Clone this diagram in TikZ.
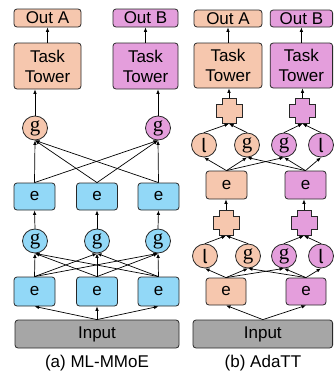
\documentclass[tikz,border=0pt]{standalone}
\usepackage{fontspec}
\setmainfont{Liberation Sans}
\newfontfamily\serifg{Liberation Serif}
\newfontfamily\firal{Fira Sans}
\usetikzlibrary{shapes.geometric,arrows.meta}
\definecolor{peach}{RGB}{246,199,174}
\definecolor{pinkv}{RGB}{228,158,220}
\definecolor{skyb}{RGB}{146,216,247}
\definecolor{grayin}{RGB}{166,166,166}
\definecolor{linec}{RGB}{40,40,40}
\newcommand{\gtxt}{{\serifg\fontsize{21}{21}\selectfont g}}
\newcommand{\ltxt}{{\firal\fontsize{19}{19}\selectfont l}}
\newcommand{\crossnode}[3]{%
  \node[inner sep=0pt, minimum width=26pt, minimum height=25pt] (#1) at (#2) {};
  \draw[draw=linec, line width=0.8pt, fill=#3]
    ([shift={(-7,-12.5)}]#1.center) -- ++(14,0) -- ++(0,6) -- ++(6,0) -- ++(0,13)
    -- ++(-6,0) -- ++(0,6) -- ++(-14,0) -- ++(0,-6) -- ++(-6,0) -- ++(0,-13)
    -- ++(6,0) -- cycle;
}
\begin{document}
\begin{tikzpicture}[x=1pt,y=-1pt,
  txt/.style={font=\fontsize{17}{20}\selectfont},
  box/.style={draw=linec, line width=0.8pt, rounded corners=3pt, inner sep=0pt,
    txt, align=center},
  ell/.style={ellipse, draw=linec, line width=0.8pt, minimum width=25pt,
    minimum height=24pt, inner sep=0pt, txt},
  arr/.style={-{Latex[length=4.5pt,width=3.6pt]}, line width=0.7pt, draw=black}]
\useasboundingbox (0,0) rectangle (333,375);

% ---------------- (a) ML-MMoE ----------------
\node[box, fill=peach, minimum width=67pt, minimum height=18pt] (oa1) at (47.5,18) {Out A};
\node[box, fill=pinkv, minimum width=65pt, minimum height=18pt] (ob1) at (145.5,18) {Out B};
\node[box, fill=peach, minimum width=67pt, minimum height=46pt] (ta1) at (47.5,66) {Task\\Tower};
\node[box, fill=pinkv, minimum width=65pt, minimum height=46pt] (tb1) at (145.5,66) {Task\\Tower};
\node[ell, fill=peach] (ga1) at (35,128) {\gtxt};
\node[ell, fill=pinkv] (gb1) at (158,128) {\gtxt};
\foreach \i/\x in {1/34.5,2/97,3/158.5}{
  \node[box, fill=skyb, minimum width=41pt, minimum height=27pt] (et\i) at (\x,196.5) {e};
  \node[box, fill=skyb, minimum width=41pt, minimum height=29pt] (eb\i) at (\x,291.5) {e};
}
\foreach \i/\x in {1/35,2/97,3/158}{
  \node[ell, fill=skyb] (gm\i) at (\x,241) {\gtxt};
}
\node[box, fill=grayin, minimum width=164pt, minimum height=28pt] (in1) at (97,334) {Input};
\node[txt] (cap1) at (97,363) {(a) ML-MMoE};

\foreach \i in {1,2,3}{
  \draw[arr] (in1.north) -- (eb\i.south);
  \draw[arr] (gm\i.north) -- (et\i.south);
  \foreach \j in {1,2,3}{
    \draw[arr] (eb\i.north) -- (gm\j.south);
  }
  \draw[arr] (et\i.north) -- (ga1.south);
  \draw[arr] (et\i.north) -- (gb1.south);
}
\draw[arr] (ga1.north) -- (ga1.north |- ta1.south);
\draw[arr] (gb1.north) -- (gb1.north |- tb1.south);
\draw[arr] (ta1.north) -- (oa1.south);
\draw[arr] (tb1.north) -- (ob1.south);

% ---------------- (b) AdaTT ----------------
\node[box, fill=peach, minimum width=68pt, minimum height=17pt] (oa2) at (228,18.5) {Out A};
\node[box, fill=pinkv, minimum width=62.4pt, minimum height=17pt] (ob2) at (301.4,18.5) {Out B};
\node[box, fill=peach, minimum width=68pt, minimum height=45pt] (ta2) at (228,65.5) {Task\\Tower};
\node[box, fill=pinkv, minimum width=62.4pt, minimum height=45pt] (tb2) at (301.4,65.5) {Task\\Tower};
\crossnode{pau}{229,111}{peach}
\crossnode{pbu}{302.5,111}{pinkv}
\node[ell, fill=peach] (lau) at (204,145) {\ltxt};
\node[ell, fill=peach] (gau) at (247,145) {\gtxt};
\node[ell, fill=pinkv] (gbu) at (284,145) {\gtxt};
\node[ell, fill=pinkv] (lbu) at (321,145) {\ltxt};
\node[box, fill=peach, minimum width=41pt, minimum height=28pt] (eau) at (226.5,185) {e};
\node[box, fill=pinkv, minimum width=41pt, minimum height=28pt] (ebu) at (305.5,185) {e};
\crossnode{pal}{226,223}{peach}
\crossnode{pbl}{304,223}{pinkv}
\node[ell, fill=peach] (lal) at (205,256) {\ltxt};
\node[ell, fill=peach] (gal) at (248,256) {\gtxt};
\node[ell, fill=pinkv] (gbl) at (284,256) {\gtxt};
\node[ell, fill=pinkv] (lbl) at (321,256) {\ltxt};
\node[box, fill=peach, minimum width=40pt, minimum height=27pt] (eal) at (226,291.5) {e};
\node[box, fill=pinkv, minimum width=40pt, minimum height=27pt] (ebl) at (306,291.5) {e};
\node[box, fill=grayin, minimum width=139.6pt, minimum height=28pt] (in2) at (262.8,334) {Input};
\node[txt] (cap2) at (263,363) {(b) AdaTT};

\draw[arr] (in2.north) -- (eal.south);
\draw[arr] (in2.north) -- (ebl.south);
\foreach \lv in {l,u}{
  \draw[arr] (ea\lv.north) -- (la\lv.south);
  \draw[arr] (ea\lv.north) -- (ga\lv.south);
  \draw[arr] (ea\lv.north) -- (gb\lv.south);
  \draw[arr] (eb\lv.north) -- (lb\lv.south);
  \draw[arr] (eb\lv.north) -- (gb\lv.south);
  \draw[arr] (eb\lv.north) -- (ga\lv.south);
  \draw[arr] (la\lv.north) -- (pa\lv.south);
  \draw[arr] (ga\lv.north) -- (pa\lv.south);
  \draw[arr] (gb\lv.north) -- (pb\lv.south);
  \draw[arr] (lb\lv.north) -- (pb\lv.south);
}
\draw[arr] (pal.north) -- (pal.north |- eau.south);
\draw[arr] (pbl.north) -- (pbl.north |- ebu.south);
\draw[arr] (pau.north) -- (pau.north |- ta2.south);
\draw[arr] (pbu.north) -- (pbu.north |- tb2.south);
\draw[arr] (ta2.north) -- (oa2.south);
\draw[arr] (tb2.north) -- (ob2.south);
\end{tikzpicture}
\end{document}
